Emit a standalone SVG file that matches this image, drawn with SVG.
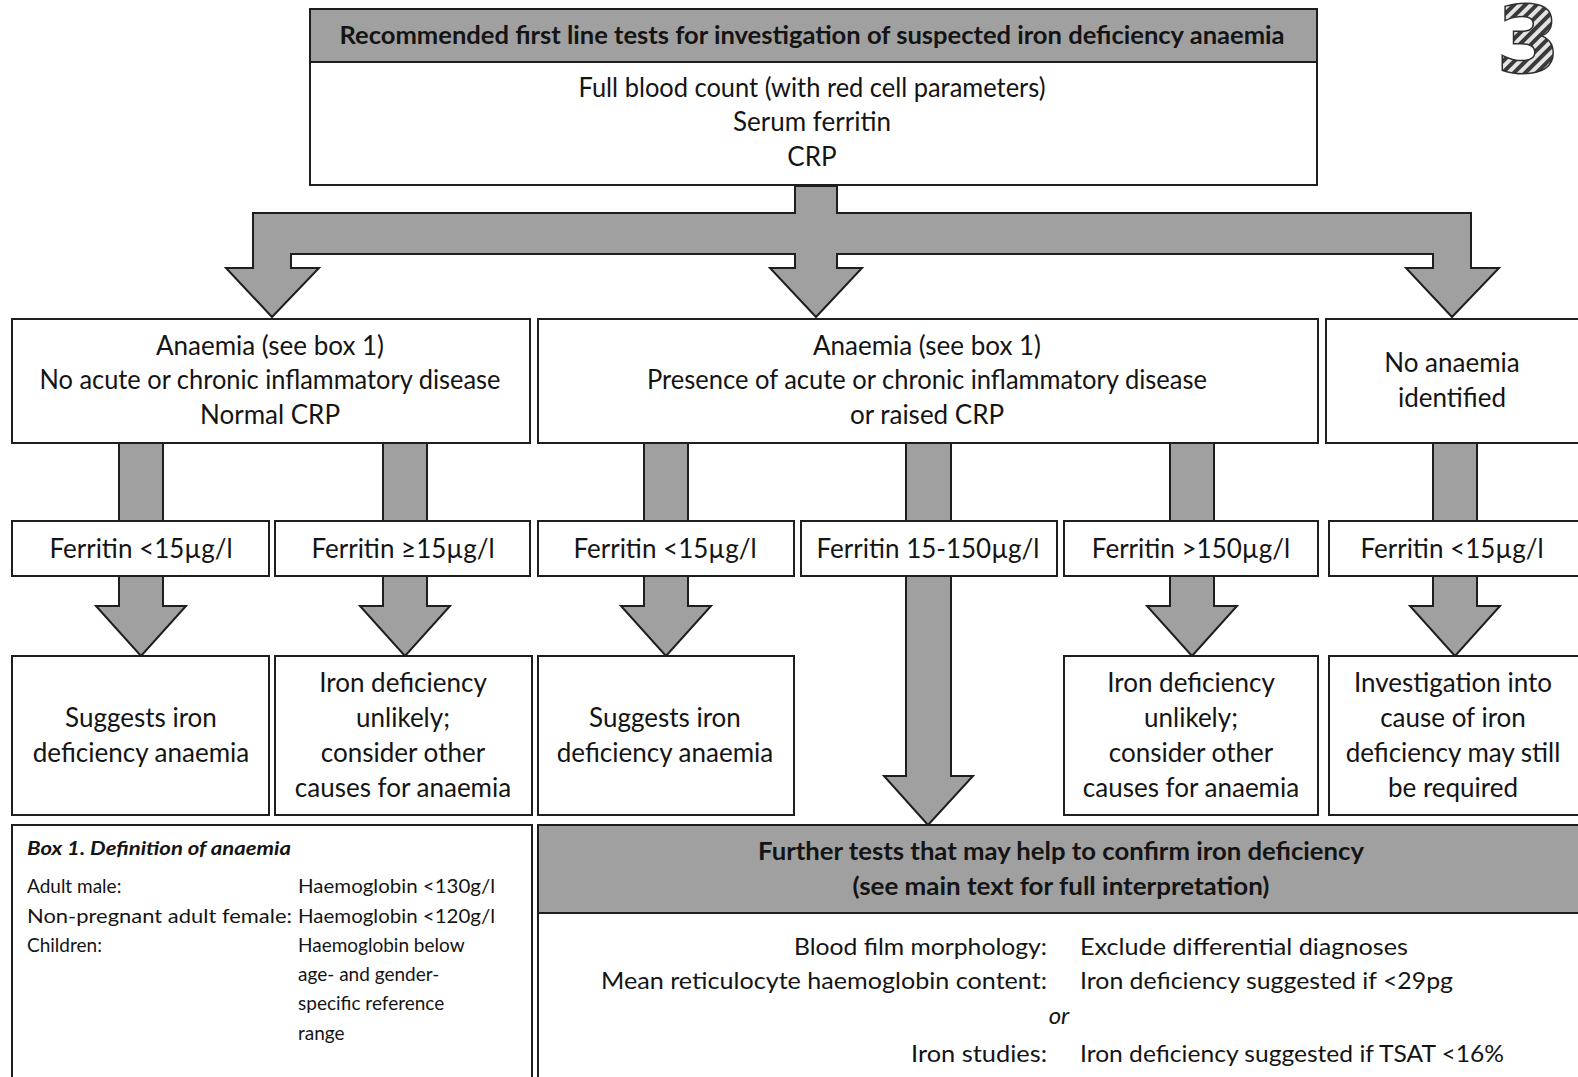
<svg xmlns="http://www.w3.org/2000/svg" width="1578" height="1077" viewBox="0 0 1578 1077">
<defs>
<pattern id="hatch" patternUnits="userSpaceOnUse" width="8" height="8" patternTransform="rotate(45)">
<rect width="8" height="8" fill="#e4e4e4"/>
<rect width="4" height="8" fill="#3a3a3a"/>
</pattern>
<style>
.box{fill:#ffffff;stroke:#1e1e1e;stroke-width:2}
.hdr{fill:#a0a0a0;stroke:#1e1e1e;stroke-width:2}
.arrow{fill:#a0a0a0;stroke:#1e1e1e;stroke-width:2;stroke-linejoin:miter}
text{font-family:Lato,"Open Sans","Liberation Sans",sans-serif;fill:#141414}
.t{font-size:26px;text-anchor:middle}
.b{font-size:24px;font-weight:bold;text-anchor:middle}
.f{font-size:24px}
.r{font-size:24px;text-anchor:end}
.s{font-size:19px}
.logo{font-family:"DejaVu Sans","Liberation Sans",sans-serif;font-weight:bold;font-size:90px;fill:url(#hatch);stroke:#2e2e2e;stroke-width:3;paint-order:stroke}
</style>
</defs>

<text class="logo" x="1497" y="72">3</text>

<g id="connectors">
<path class="arrow" d="M795,186 L795,213 L253,213 L253,268 L226,268 L272,317 L319,268 L291,268 L291,254 L795,254 L795,268 L770,268 L816,317 L862,268 L837,268 L837,254 L1433,254 L1433,268 L1406,268 L1452,317 L1499,268 L1471,268 L1471,213 L837,213 L837,186 Z"/>
<rect class="arrow" x="119" y="443" width="44" height="78"/>
<rect class="arrow" x="383" y="443" width="44" height="78"/>
<rect class="arrow" x="644" y="443" width="44" height="78"/>
<rect class="arrow" x="906" y="443" width="45" height="78"/>
<rect class="arrow" x="1170" y="443" width="44" height="78"/>
<rect class="arrow" x="1433" y="443" width="44" height="78"/>
<path class="arrow" d="M119,576 L119,606 L96,606 L141,656 L186,606 L163,606 L163,576 Z"/>
<path class="arrow" d="M383,576 L383,606 L360,606 L405,656 L450,606 L427,606 L427,576 Z"/>
<path class="arrow" d="M644,576 L644,606 L621,606 L666,656 L711,606 L688,606 L688,576 Z"/>
<path class="arrow" d="M906,576 L906,776 L884,776 L928,825 L973,776 L951,776 L951,576 Z"/>
<path class="arrow" d="M1170,576 L1170,606 L1147,606 L1192,656 L1237,606 L1214,606 L1214,576 Z"/>
<path class="arrow" d="M1433,576 L1433,606 L1410,606 L1455,656 L1500,606 L1477,606 L1477,576 Z"/>
</g>

<g id="first-line-tests">
<rect class="box" x="310" y="9" width="1007" height="176"/>
<rect class="hdr" x="310" y="9" width="1007" height="53"/>
<text class="b" x="812" y="44" textLength="945" lengthAdjust="spacingAndGlyphs">Recommended first line tests for investigation of suspected iron deficiency anaemia</text>
<text class="t" x="812" y="97" textLength="467" lengthAdjust="spacingAndGlyphs">Full blood count (with red cell parameters)</text>
<text class="t" x="812" y="131">Serum  ferritin</text>
<text class="t" x="812" y="166">CRP</text>
</g>

<g id="anaemia-no-inflammation">
<rect class="box" x="12" y="319" width="518" height="124"/>
<text class="t" x="270" y="355">Anaemia (see box 1)</text>
<text class="t" x="270" y="389" textLength="461" lengthAdjust="spacingAndGlyphs">No acute or chronic inflammatory  disease</text>
<text class="t" x="270" y="424">Normal  CRP</text>
</g>

<g id="anaemia-inflammation">
<rect class="box" x="538" y="319" width="780" height="124"/>
<text class="t" x="927" y="355">Anaemia (see box 1)</text>
<text class="t" x="927" y="389" textLength="560" lengthAdjust="spacingAndGlyphs">Presence of acute or chronic inflammatory disease</text>
<text class="t" x="927" y="424">or raised CRP</text>
</g>

<g id="no-anaemia">
<rect class="box" x="1326" y="319" width="270" height="124"/>
<text class="t" x="1452" y="372">No anaemia</text>
<text class="t" x="1452" y="407">identified</text>
</g>

<g id="ferritin-1">
<rect class="box" x="12" y="521" width="257" height="55"/>
<text class="t" x="141" y="558">Ferritin &lt;15µg/l</text>
</g>
<g id="ferritin-2">
<rect class="box" x="275" y="521" width="255" height="55"/>
<text class="t" x="403" y="558">Ferritin ≥15µg/l</text>
</g>
<g id="ferritin-3">
<rect class="box" x="538" y="521" width="256" height="55"/>
<text class="t" x="665" y="558">Ferritin &lt;15µg/l</text>
</g>
<g id="ferritin-4">
<rect class="box" x="801" y="521" width="256" height="55"/>
<text class="t" x="928" y="558">Ferritin 15-150µg/l</text>
</g>
<g id="ferritin-5">
<rect class="box" x="1064" y="521" width="254" height="55"/>
<text class="t" x="1191" y="558">Ferritin &gt;150µg/l</text>
</g>
<g id="ferritin-6">
<rect class="box" x="1329" y="521" width="267" height="55"/>
<text class="t" x="1452" y="558">Ferritin &lt;15µg/l</text>
</g>

<g id="result-1">
<rect class="box" x="12" y="656" width="257" height="159"/>
<text class="t" x="141" y="727">Suggests iron</text>
<text class="t" x="141" y="762">deficiency anaemia</text>
</g>
<g id="result-2">
<rect class="box" x="275" y="656" width="257" height="159"/>
<text class="t" x="403" y="692">Iron deficiency</text>
<text class="t" x="403" y="727">unlikely;</text>
<text class="t" x="403" y="762">consider other</text>
<text class="t" x="403" y="797">causes for anaemia</text>
</g>
<g id="result-3">
<rect class="box" x="538" y="656" width="256" height="159"/>
<text class="t" x="665" y="727">Suggests iron</text>
<text class="t" x="665" y="762">deficiency anaemia</text>
</g>
<g id="result-5">
<rect class="box" x="1064" y="656" width="254" height="159"/>
<text class="t" x="1191" y="692">Iron deficiency</text>
<text class="t" x="1191" y="727">unlikely;</text>
<text class="t" x="1191" y="762">consider other</text>
<text class="t" x="1191" y="797">causes for anaemia</text>
</g>
<g id="result-6">
<rect class="box" x="1329" y="656" width="267" height="159"/>
<text class="t" x="1453" y="692">Investigation into</text>
<text class="t" x="1453" y="727">cause of iron</text>
<text class="t" x="1453" y="762">deficiency may still</text>
<text class="t" x="1453" y="797">be required</text>
</g>

<g id="box-1">
<rect class="box" x="12" y="825" width="520" height="270"/>
<text class="s" x="27" y="855" font-weight="bold" font-style="italic" textLength="264" lengthAdjust="spacingAndGlyphs">Box 1. Definition  of anaemia</text>
<text class="s" x="27" y="893">Adult male:</text>
<text class="s" x="27" y="923" textLength="265" lengthAdjust="spacingAndGlyphs">Non-pregnant adult female:</text>
<text class="s" x="27" y="952">Children:</text>
<text class="s" x="298" y="893" textLength="197" lengthAdjust="spacingAndGlyphs">Haemoglobin &lt;130g/l</text>
<text class="s" x="298" y="923" textLength="197" lengthAdjust="spacingAndGlyphs">Haemoglobin &lt;120g/l</text>
<text class="s" x="298" y="952">Haemoglobin below</text>
<text class="s" x="298" y="981">age- and gender-</text>
<text class="s" x="298" y="1010">specific reference</text>
<text class="s" x="298" y="1040">range</text>
</g>

<g id="further-tests">
<rect class="box" x="538" y="825" width="1060" height="270"/>
<rect class="hdr" x="538" y="825" width="1060" height="88"/>
<text class="b" x="1061" y="860" textLength="606" lengthAdjust="spacingAndGlyphs">Further tests that may help to confirm iron deficiency</text>
<text class="b" x="1061" y="895" textLength="417" lengthAdjust="spacingAndGlyphs">(see main text for full interpretation)</text>
<text class="r" x="1047" y="955" textLength="253" lengthAdjust="spacingAndGlyphs">Blood film morphology:</text>
<text class="r" x="1047" y="989" textLength="446" lengthAdjust="spacingAndGlyphs">Mean reticulocyte haemoglobin content:</text>
<text class="f" x="1059" y="1024" font-style="italic" text-anchor="middle">or</text>
<text class="r" x="1047" y="1062" textLength="136" lengthAdjust="spacingAndGlyphs">Iron studies:</text>
<text class="f" x="1080" y="955" textLength="328" lengthAdjust="spacingAndGlyphs">Exclude differential diagnoses</text>
<text class="f" x="1080" y="989" textLength="373" lengthAdjust="spacingAndGlyphs">Iron deficiency suggested if &lt;29pg</text>
<text class="f" x="1080" y="1062" textLength="424" lengthAdjust="spacingAndGlyphs">Iron deficiency suggested if TSAT &lt;16%</text>
</g>
</svg>
